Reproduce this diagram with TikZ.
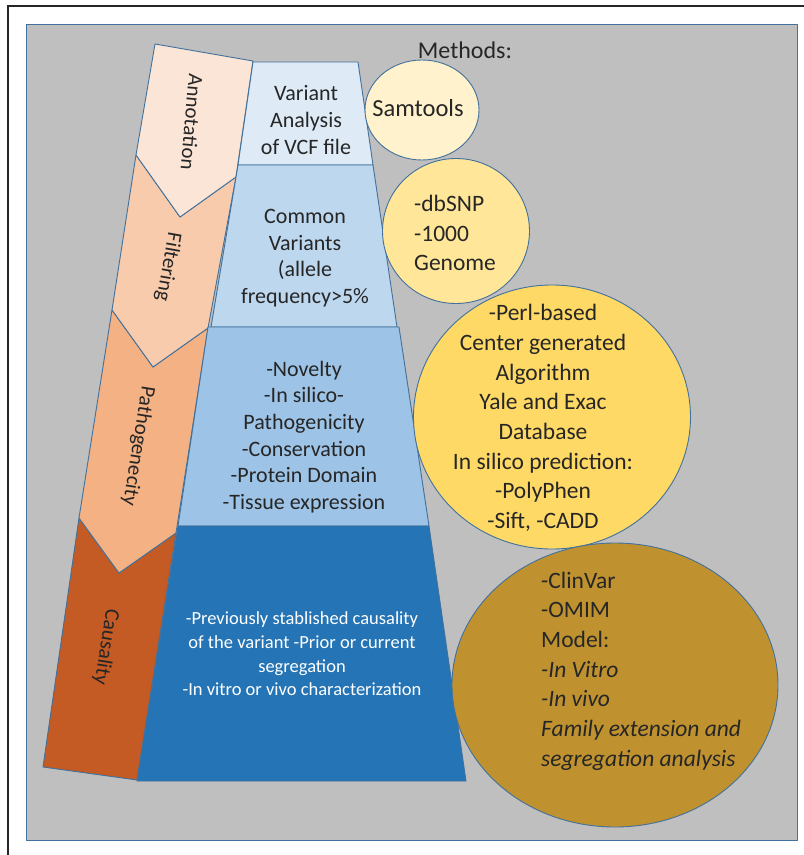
\documentclass[tikz,border=0pt]{standalone}
\usepackage{fontspec}
\setmainfont{Carlito}
\usetikzlibrary{shapes.geometric}

\definecolor{bggray}{HTML}{BFBFBF}
\definecolor{edgeblue}{HTML}{41719C}
\definecolor{darktext}{HTML}{262626}
\definecolor{annot}{HTML}{FBE5D6}
\definecolor{filt}{HTML}{F8CBAD}
\definecolor{patho}{HTML}{F4B183}
\definecolor{causal}{HTML}{C45A24}
\definecolor{blueA}{HTML}{DEEBF7}
\definecolor{blueB}{HTML}{BDD7EE}
\definecolor{blueC}{HTML}{9DC3E6}
\definecolor{blueD}{HTML}{2574B5}
\definecolor{yelA}{HTML}{FFF2CC}
\definecolor{yelB}{HTML}{FFE699}
\definecolor{yelC}{HTML}{FFD966}
\definecolor{yelD}{HTML}{BF922F}

\begin{document}
\begin{tikzpicture}[x=1pt,y=-1pt,
    shp/.style={draw=edgeblue,line width=0.9pt,line join=round},
    meth/.style={shp,ellipse,inner sep=0pt},
    steplbl/.style={text=darktext,inner sep=0pt,font=\fontsize{21}{25}\selectfont},
    boxtxt/.style={text=darktext,inner sep=0pt,align=center,font=\fontsize{22}{26.6}\selectfont},
    methtxt/.style={text=darktext,inner sep=0pt,font=\fontsize{23.5}{29.7}\selectfont}]
  \useasboundingbox (0,0) rectangle (804,855);
  \draw[line width=1.6pt,darktext] (8,855) -- (8,6) -- (804,6);
  \draw[shp,fill=bggray] (26,24) rectangle (797,840);

  % steps on the left
  \draw[shp,fill=causal] (79,518) -- (119,573) -- (176,533) -- (137,780) -- (43,767) -- cycle;
  \draw[shp,fill=patho] (112,310) -- (153,367) -- (208,328) -- (176,533) -- (119,573) -- (79,518) -- cycle;
  \draw[shp,fill=filt] (136,155) -- (180,217) -- (236,177) -- (208,328) -- (153,367) -- (112,310) -- cycle;
  \draw[shp,fill=annot] (155,44) -- (253,61) -- (236,177) -- (180,217) -- (136,155) -- cycle;
  \node[steplbl,rotate=-95] (annotation) at (192,122) {Annotation};
  \node[steplbl,rotate=-100] (filtering) at (168,267) {Filtering};
  \node[steplbl,rotate=-99] (pathogenecity) at (138,446) {Pathogenecity};
  \node[steplbl,rotate=-99] (causality) at (106,647) {Causality};

  % funnel
  \draw[shp,fill=blueA] (253,62) -- (358,62) -- (373,165) -- (238,165) -- cycle;
  \draw[shp,fill=blueB] (238,165) -- (373,165) -- (397,327) -- (211,327) -- cycle;
  \draw[shp,fill=blueC] (208,327) -- (399,327) -- (429,526) -- (178,526) -- cycle;
  \draw[shp,fill=blueD] (178,526) -- (429,526) -- (466,781) -- (137,781) -- cycle;
  \node[boxtxt] (vcf) at (306,120) {Variant\\Analysis\\of VCF file};
  \node[boxtxt] (common) at (305,258) {Common\\Variants\\(allele\\frequency>5\%};
  \node[boxtxt] (novelty) at (304,437) {-Novelty\\-In silico-\\Pathogenicity\\-Conservation\\-Protein Domain\\-Tissue expression};
  \node[boxtxt,text=white,font=\fontsize{18.5}{23.7}\selectfont] (prev) at (302,654)
    {-Previously stablished causality\\of the variant -Prior or current\\segregation\\-In vitro or vivo characterization};

  % methods
  \node[methtxt,font=\fontsize{24}{29}\selectfont] (methods) at (465,50) {Methods:};
  \node[meth,fill=yelA,minimum width=114pt,minimum height=100pt] (samtools) at (422,110) {};
  \node[meth,fill=yelB,minimum width=147pt,minimum height=145pt] (dbsnp) at (456,231) {};
  \node[meth,fill=yelC,minimum width=277pt,minimum height=264pt] (perl) at (552,417) {};
  \node[meth,fill=yelD,minimum width=326pt,minimum height=284pt] (clinvar) at (615,685) {};
  \node[methtxt,font=\fontsize{24.5}{29}\selectfont] (samtxt) at (418,108) {Samtools};
  \node[methtxt,align=left,anchor=west] (dbtxt) at (414,233) {-dbSNP\\-1000\\Genome};
  \node[methtxt,align=center] (perltxt) at (543,418) {-Perl-based\\Center generated\\Algorithm\\Yale and Exac\\Database\\In silico prediction:\\-PolyPhen\\-Sift, -CADD};
  \node[methtxt,align=left,anchor=west] (clintxt) at (541,671) {-ClinVar\\-OMIM\\Model:\\\textit{-In Vitro}\\\textit{-In vivo}\\\textit{Family extension and}\\\textit{segregation analysis}};
\end{tikzpicture}
\end{document}
